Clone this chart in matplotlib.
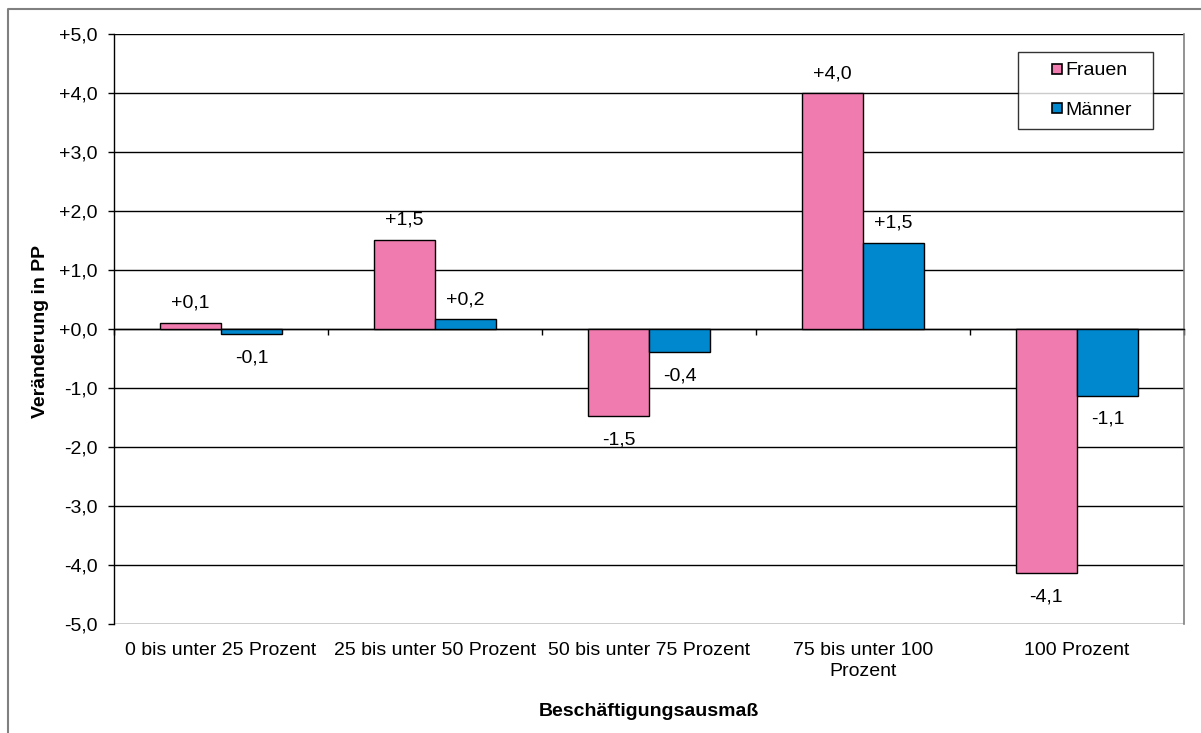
import matplotlib
matplotlib.use("Agg")
import matplotlib.pyplot as plt
from matplotlib.lines import Line2D
from matplotlib.transforms import blended_transform_factory, offset_copy
import numpy as np

plt.rcParams["font.family"] = ["Liberation Sans", "DejaVu Sans"]

categories = ["0 bis unter 25 Prozent", "25 bis unter 50 Prozent",
              "50 bis unter 75 Prozent", "75 bis unter 100\nProzent",
              "100 Prozent"]
frauen = [0.11, 1.51, -1.48, 4.0, -4.14]
maenner = [-0.085, 0.17, -0.39, 1.46, -1.13]
series_names = ["Frauen", "Männer"]
y_ticks = [-5, -4, -3, -2, -1, 0, 1, 2, 3, 4, 5]

PINK = "#F07BAF"
BLUE = "#0088CF"
W, H = 1201, 733
FS = 14


def de_fmt(v):
    return f"{v:+.1f}".replace(".", ",")


fig = plt.figure(figsize=(W / 100, H / 100), dpi=100)
fig.patch.set_facecolor("white")
ax = fig.add_axes([114 / W, 1 - 624 / H, (1184 - 114) / W, (624 - 34) / H])

x = np.arange(len(categories))
bw = 1 / 3.5
b1 = ax.bar(x - bw / 2, frauen, bw, color=PINK, edgecolor="black", linewidth=1.0,
            label=series_names[0], zorder=3)
b2 = ax.bar(x + bw / 2, maenner, bw, color=BLUE, edgecolor="black", linewidth=1.0,
            label=series_names[1], zorder=3)

ax.set_xlim(-0.5, len(categories) - 0.5)
ax.set_ylim(-5, 5)
ax.set_yticks(y_ticks)
ax.set_yticklabels([de_fmt(v) for v in y_ticks], fontsize=FS)
ax.tick_params(axis="y", length=4, width=1, direction="out", pad=8, colors="black")
ax.yaxis.grid(True, color="black", linewidth=1, zorder=0)
ax.set_axisbelow(True)

# x axis drawn at zero with tick marks between categories
ax.spines["bottom"].set_position(("data", 0))
ax.spines["bottom"].set_linewidth(1)
ax.set_xticks(np.arange(-0.5, len(categories), 1.0))
ax.set_xticklabels([])
ax.tick_params(axis="x", length=4, width=1, direction="out")
ax.spines["top"].set_visible(False)
ax.spines["left"].set_linewidth(1)
ax.spines["right"].set_color("#808080")
ax.spines["right"].set_linewidth(1.2)

# category labels below the plot area
tr = blended_transform_factory(ax.transData, ax.transAxes)
for xi, cat in zip(x, categories):
    ax.text(xi, 0, cat, transform=offset_copy(tr, fig=fig, x=0, y=-13, units="points"),
            ha="center", va="top", fontsize=FS, linespacing=1.3)

# value labels
for bars, vals in ((b1, frauen), (b2, maenner)):
    for rect, v in zip(bars, vals):
        cx = rect.get_x() + rect.get_width() / 2
        off = 14 if v >= 0 else -17
        ax.annotate(de_fmt(v), (cx, v), xytext=(0, off), textcoords="offset points",
                    ha="center", va="center", fontsize=FS)

fig.text(41 / W, 1 - 332 / H, "Veränderung in PP", rotation=90, ha="center",
         va="center", fontsize=FS, fontweight="bold")
fig.text(649 / W, 1 - 711 / H, "Beschäftigungsausmaß", ha="center", va="center",
         fontsize=FS, fontweight="bold")

handles = [Line2D([], [], marker="s", linestyle="none", markersize=7,
                  markerfacecolor=c, markeredgecolor="black", markeredgewidth=1.2)
           for c in (PINK, BLUE)]
leg = fig.legend(handles, series_names, loc="upper left",
                 bbox_to_anchor=(1018 / W, 1 - 52 / H, (1153 - 1018) / W, 0),
                 mode="expand", fontsize=FS, frameon=True, fancybox=False,
                 borderpad=0.5, labelspacing=1.15, handlelength=3.05,
                 handletextpad=-1.13, borderaxespad=0)
leg.get_frame().set_edgecolor("black")
leg.get_frame().set_linewidth(1)

# outer chart border
fig.add_artist(Line2D([8 / W, 8 / W, 1.0], [0.0, 1 - 9 / H, 1 - 9 / H],
                      transform=fig.transFigure, color="#808080", linewidth=1.5))

fig.savefig("out.png", dpi=100, facecolor="white")
